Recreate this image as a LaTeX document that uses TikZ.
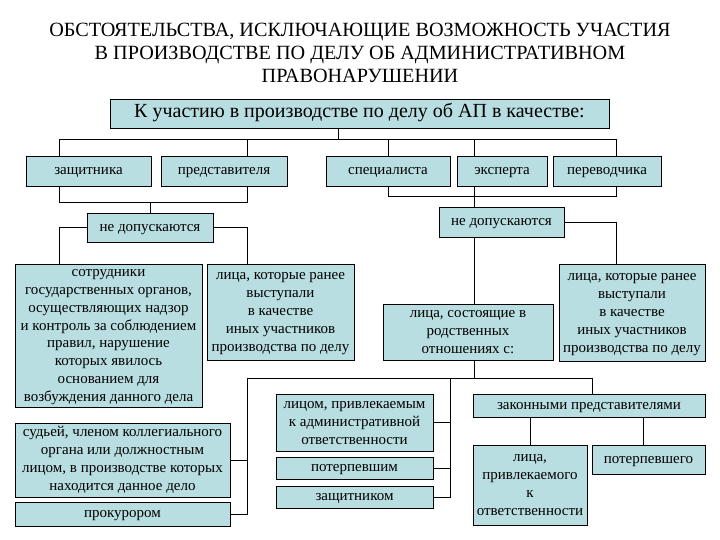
\documentclass[tikz,border=0pt]{standalone}
\usepackage{fontspec}
\setmainfont{Liberation Serif}
\definecolor{boxfill}{RGB}{185,222,225}
\tikzset{
  box/.style={draw=black, fill=boxfill, line width=0.9pt, inner sep=1pt, align=center,
    font=\fontsize{15}{18}\selectfont},
  conn/.style={draw=black, line width=0.9pt}
}
\begin{document}
\begin{tikzpicture}[x=1pt,y=-1pt]
\useasboundingbox (0,0) rectangle (720,540);
\fill[white] (0,0) rectangle (720,540);
\node[align=center, font=\fontsize{20.2}{23}\selectfont] (title) at (360,52.5)
  {ОБСТОЯТЕЛЬСТВА, ИСКЛЮЧАЮЩИЕ ВОЗМОЖНОСТЬ УЧАСТИЯ\\В ПРОИЗВОДСТВЕ ПО ДЕЛУ ОБ АДМИНИСТРАТИВНОМ\\ПРАВОНАРУШЕНИИ};
\node[box, minimum width=499pt, minimum height=29pt, font=\fontsize{20}{22}\selectfont] (main) at (359.5,113.5)
  {\strut К участию в производстве по делу об АП в качестве:};
\node[box, minimum width=125pt, minimum height=30pt] (zash) at (88.5,171) {\strut защитника};
\node[box, minimum width=126pt, minimum height=30pt] (pred) at (224,171) {\strut представителя};
\node[box, minimum width=124pt, minimum height=30pt] (spec) at (388,171) {\strut специалиста};
\node[box, minimum width=90pt, minimum height=30pt] (eksp) at (502,171) {\strut эксперта};
\node[box, minimum width=108pt, minimum height=30pt] (perev) at (607,171) {\strut переводчика};
\node[box, minimum width=126pt, minimum height=29pt] (nd1) at (150,227.5) {\strut не допускаются};
\node[box, minimum width=125pt, minimum height=30pt] (nd2) at (501.5,222) {\strut не допускаются};
\node[box, minimum width=187pt, minimum height=143pt, inner sep=0pt, font=\fontsize{15}{17.8}\selectfont] (sotr) at (108.5,335.5)
  {\strut сотрудники\\государственных органов,\\осуществляющих надзор\\и контроль за соблюдением\\правил, нарушение\\которых явилось\\основанием для\\возбуждения данного дела\strut};
\node[box, minimum width=147pt, minimum height=96pt] (lica1) at (280.5,312)
  {\strut лица, которые ранее\\выступали\\в качестве\\иных участников\\производства по делу\strut};
\node[box, minimum width=170pt, minimum height=56pt] (rodst) at (468,332)
  {\strut лица, состоящие в\\родственных\\отношениях с:\strut};
\node[box, minimum width=146pt, minimum height=97pt] (lica2) at (632,312.5)
  {\strut лица, которые ранее\\выступали\\в качестве\\иных участников\\производства по делу\strut};
\node[box, minimum width=215pt, minimum height=74pt] (sud) at (122.5,460)
  {\strut судьей, членом коллегиального\\органа или должностным\\лицом, в производстве которых\\находится данное дело\strut};
\node[box, minimum width=215pt, minimum height=24pt, inner sep=0pt] (prok) at (122.5,514) {\strut прокурором};
\node[box, minimum width=157pt, minimum height=57pt] (licom) at (354.5,422.5)
  {\strut лицом, привлекаемым\\к административной\\ответственности\strut};
\node[box, minimum width=157pt, minimum height=22pt, inner sep=0pt] (poter) at (354.5,468) {\strut потерпевшим};
\node[box, minimum width=157pt, minimum height=22pt, inner sep=0pt] (zashm) at (354.5,497) {\strut защитником};
\node[box, minimum width=232pt, minimum height=23pt, inner sep=0pt] (zakon) at (589,405.5) {\strut законными представителями};
\node[box, minimum width=114pt, minimum height=80pt] (licap) at (530,485)
  {\strut лица,\\привлекаемого\\к\\ответственности\strut};
\node[box, minimum width=113pt, minimum height=29pt] (poterg) at (648.5,459.5) {\strut потерпевшего};
% coordinates
\coordinate (tA) at (59,139);
\coordinate (tB) at (247,139);
\coordinate (tC) at (388,139);
\coordinate (tD) at (474,139);
\coordinate (tE) at (616,139);
\coordinate (tM) at (338,139);
\coordinate (lA) at (59,202);
\coordinate (lB) at (247,202);
\coordinate (lM) at (150,202);
\coordinate (rC) at (388,196);
\coordinate (rE) at (616,196);
\coordinate (mL) at (247,378);
\coordinate (mR) at (592,378);
\coordinate (mM) at (450,378);
\coordinate (zB) at (643,0);
% top bus
\draw[conn] (main.south -| tM) -- (tM);
\draw[conn] (tA) -- (tE);
\draw[conn] (tA) -- (tA |- zash.north);
\draw[conn] (tB) -- (tB |- pred.north);
\draw[conn] (tC) -- (tC |- spec.north);
\draw[conn] (tD) -- (tD |- eksp.north);
\draw[conn] (tE) -- (tE |- perev.north);
% left group
\draw[conn] (zash.south -| lA) -- (lA) -- (lB) -- (pred.south -| lB);
\draw[conn] (lM) -- (lM |- nd1.north);
\draw[conn] (nd1.west) -| (sotr.north -| lA);
\draw[conn] (nd1.east) -| (lica1.north -| lB);
% right group
\draw[conn] (spec.south -| rC) -- (rC) -- (rE) -- (perev.south -| rE);
\draw[conn] (eksp.south -| tD) -- (nd2.north -| tD);
\draw[conn] (nd2.south -| tD) -- (rodst.north -| tD);
\draw[conn] (nd2.east) -| (lica2.north -| tE);
% lower bus
\draw[conn] (rodst.south -| tD) -- (tD |- mL);
\draw[conn] (prok.east) -| (mL) -- (mR) -- (zakon.north -| mR);
\draw[conn] (sud.east) -- (sud.east -| mL);
\draw[conn] (mM) |- (zashm.east);
\draw[conn] (licom.east) -- (licom.east -| mM);
\draw[conn] (poter.east) -- (poter.east -| mM);
\draw[conn] (licap.north) -- (licap.north |- zakon.south);
\draw[conn] (zakon.south -| zB) -- (poterg.north -| zB);
\end{tikzpicture}
\end{document}
